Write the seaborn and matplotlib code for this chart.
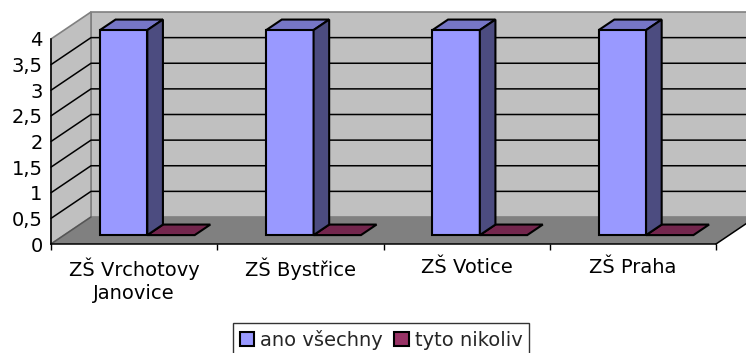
import matplotlib
matplotlib.use("Agg")
import matplotlib.pyplot as plt
from matplotlib.patches import Polygon, Rectangle
from matplotlib.lines import Line2D
import numpy as np
import pandas as pd
import seaborn as sns

# ---- data ----
schools = ["ZŠ Vrchotovy\nJanovice", "ZŠ Bystřice", "ZŠ Votice", "ZŠ Praha"]
series_names = ["ano všechny", "tyto nikoliv"]
ano_vsechny = [4, 4, 4, 4]
tyto_nikoliv = [0, 0, 0, 0]
y_ticks = [0, 0.5, 1, 1.5, 2, 2.5, 3, 3.5, 4]
y_tick_labels = ["0", "0,5", "1", "1,5", "2", "2,5", "3", "3,5", "4"]

df = pd.DataFrame({
    "skola": schools * 2,
    "pocet": ano_vsechny + tyto_nikoliv,
    "serie": [series_names[0]] * len(schools) + [series_names[1]] * len(schools),
})

# ---- style ----
sns.set_theme(style="white")
plt.rcParams["font.family"] = ["DejaVu Sans"]
FS = 14

FRONT = {"ano všechny": "#9999ff", "tyto nikoliv": "#993366"}
TOP = {"#9999ff": "#7676c6", "#993366": "#73264d"}
SIDE = {"#9999ff": "#4c4c80", "#993366": "#5a1f3e"}
WALL = "#c0c0c0"
FLOOR = "#808080"
EDGE_GRAY = "#808080"
BAR_LW = 1.5

W, H = 746, 353
fig = plt.figure(figsize=(W / 100, H / 100), dpi=100)
ax = fig.add_axes([51 / W, (H - 244) / H, (716 - 51) / W, (244 - 39) / H])

sns.barplot(data=df, x="skola", y="pocet", hue="serie", palette=FRONT,
            width=0.57, saturation=1, edgecolor="black", linewidth=BAR_LW,
            legend=False, ax=ax)

ax.set_xlim(-0.5, len(schools) - 0.5)
ax.set_ylim(0, 4)
ax.patch.set_visible(False)

# depth of the 3-D box, in pixels, converted to data units
DEPTH_PX = (40, 27)
ppx = ax.bbox.width / (ax.get_xlim()[1] - ax.get_xlim()[0])
ppy = ax.bbox.height / (ax.get_ylim()[1] - ax.get_ylim()[0])
kx, ky = DEPTH_PX[0] / ppx, DEPTH_PX[1] / ppy


def P(x, y, d):
    return (x + d * kx, y + d * ky)


x0, x1 = ax.get_xlim()
ymax = ax.get_ylim()[1]

# walls and floor
back = Polygon([P(x0, 0, 1), P(x1, 0, 1), P(x1, ymax, 1), P(x0, ymax, 1)],
               closed=True, facecolor=WALL, edgecolor=EDGE_GRAY, lw=1.2,
               zorder=0, clip_on=False)
side = Polygon([P(x0, 0, 0), P(x0, 0, 1), P(x0, ymax, 1), P(x0, ymax, 0)],
               closed=True, facecolor=WALL, edgecolor=EDGE_GRAY, lw=1.2,
               zorder=0, clip_on=False)
floor = Polygon([P(x0, 0, 0), P(x0, 0, 1), P(x1, 0, 1), P(x1, 0, 0)],
                closed=True, facecolor=FLOOR, edgecolor="none",
                zorder=0.2, clip_on=False)
for p in (back, side, floor):
    ax.add_patch(p)

# gridlines on the walls
for t in y_ticks[1:-1]:
    xs = [P(x0, t, 0)[0], P(x0, t, 1)[0], P(x1, t, 1)[0]]
    ys = [P(x0, t, 0)[1], P(x0, t, 1)[1], P(x1, t, 1)[1]]
    ax.add_line(Line2D(xs, ys, color="black", lw=1.1, zorder=0.5, clip_on=False))

# floor outline: left diagonal (gray) and right diagonal (black)
ax.add_line(Line2D([P(x0, 0, 0)[0], P(x0, 0, 1)[0]], [P(x0, 0, 0)[1], P(x0, 0, 1)[1]],
                   color="#555555", lw=1.1, zorder=0.6, clip_on=False))
ax.add_line(Line2D([P(x1, 0, 0)[0], P(x1, 0, 1)[0]], [P(x1, 0, 0)[1], P(x1, 0, 1)[1]],
                   color="black", lw=1.1, zorder=0.6, clip_on=False))

# turn seaborn's flat bars into boxes placed inside the depth
D0, D1 = 0.33, 0.72
bars = [p for p in ax.patches if isinstance(p, Rectangle) and p.get_width() < 1]
bars = sorted(bars, key=lambda r: r.get_x())
for i, r in enumerate(bars):
    bx, bw, bh = r.get_x(), r.get_width(), r.get_height()
    fc = matplotlib.colors.to_hex(r.get_facecolor()).lower()
    z = 3 + i * 0.01 if bh > 0 else 2
    r.set_visible(False)
    top = Polygon([P(bx, bh, D0), P(bx + bw, bh, D0), P(bx + bw, bh, D1), P(bx, bh, D1)],
                  closed=True, facecolor=TOP[fc], edgecolor="black", lw=BAR_LW,
                  joinstyle="miter", zorder=z, clip_on=False)
    ax.add_patch(top)
    if bh > 0:
        front = Polygon([P(bx, 0, D0), P(bx + bw, 0, D0), P(bx + bw, bh, D0), P(bx, bh, D0)],
                        closed=True, facecolor=fc, edgecolor="black", lw=BAR_LW,
                        joinstyle="miter", zorder=z, clip_on=False)
        sidef = Polygon([P(bx + bw, 0, D0), P(bx + bw, 0, D1), P(bx + bw, bh, D1), P(bx + bw, bh, D0)],
                        closed=True, facecolor=SIDE[fc], edgecolor="black", lw=BAR_LW,
                        joinstyle="miter", zorder=z, clip_on=False)
        ax.add_patch(front)
        ax.add_patch(sidef)

# axes, ticks, labels
for s in ("top", "right"):
    ax.spines[s].set_visible(False)
for s in ("left", "bottom"):
    ax.spines[s].set_color("black")
    ax.spines[s].set_linewidth(1.1)
    ax.spines[s].set_zorder(1)

ax.set_yticks(y_ticks)
ax.set_yticklabels(y_tick_labels)
ax.set_xticks(range(len(schools)))
ax.set_xticklabels(schools, linespacing=1.25)
ax.set_xticks(np.arange(-0.5, len(schools), 1.0), minor=True)
ax.tick_params(axis="y", which="major", direction="out", length=4, width=1,
               color="black", pad=2, labelsize=FS, labelcolor="black")
ax.tick_params(axis="x", which="major", length=0, pad=10, labelsize=FS,
               labelcolor="black")
ax.tick_params(axis="x", which="minor", direction="out", length=4, width=1,
               color="black", bottom=True)
ax.set_xlabel("")
ax.set_ylabel("")

# legend
handles = [Rectangle((0, 0), 1, 1, facecolor=FRONT[n], edgecolor="black", lw=1.5)
           for n in series_names]
leg = fig.legend(handles, series_names, loc="upper center",
                 bbox_to_anchor=(381 / W, 1 - 323 / H), ncol=2, fontsize=FS,
                 frameon=True, fancybox=False, handlelength=0.75, handleheight=0.75,
                 handletextpad=0.3, columnspacing=0.6, borderpad=0.35,
                 borderaxespad=0)
leg.get_frame().set_edgecolor("black")
leg.get_frame().set_linewidth(1.0)

fig.savefig("out.png", dpi=100, facecolor="white")
